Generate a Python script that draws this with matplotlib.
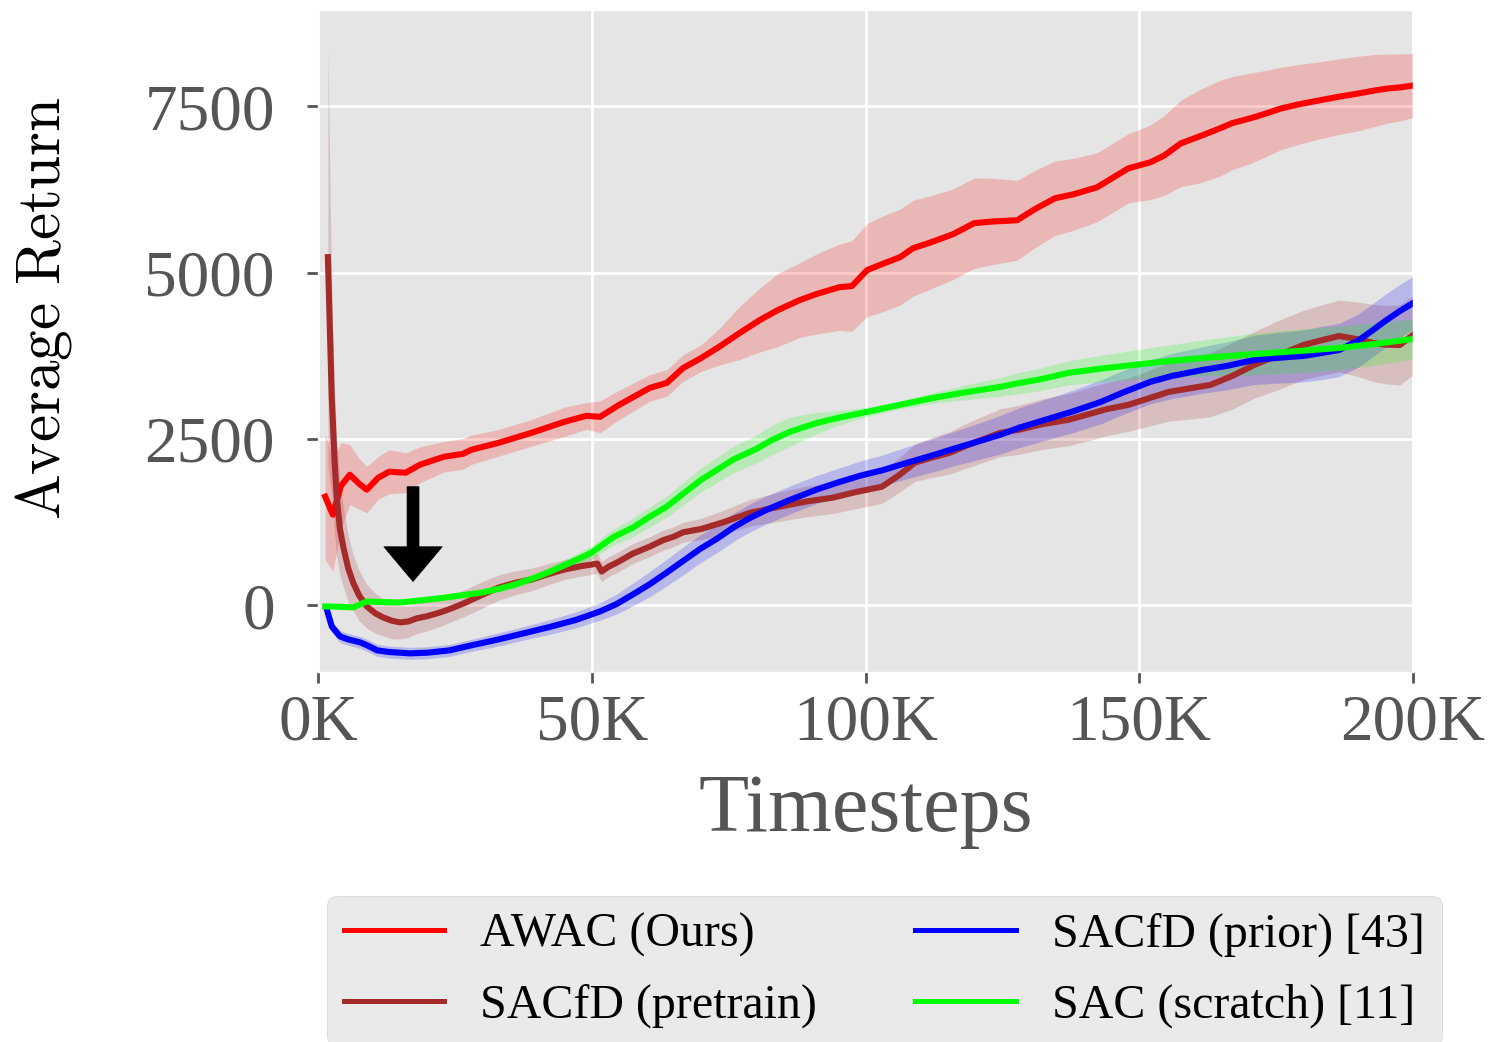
import matplotlib
matplotlib.use('Agg')
import matplotlib.pyplot as plt
import numpy as np

# ---- data (timesteps in K, returns) ----
awac_x = [1.3, 2.7, 4.2, 5.8, 7.5, 8.9, 11, 13, 16, 18.6,
          23, 26.5, 28, 33, 39, 45, 49, 51.5, 55, 60.6,
          63.7, 66.7, 70, 73.5, 77, 80.7, 84, 88, 91, 95.3,
          97.5, 100.3, 103, 106.3, 108.7, 112, 116, 119.8, 123, 127.7,
          131, 134.6, 138, 142.3, 145, 148, 152, 154.5, 157.6, 161,
          164.7, 167, 170.2, 173, 175.9, 179, 182.8, 186, 190, 193,
          195.4, 198, 200]
awac_y = [1635, 1365, 1800, 1965, 1830, 1740, 1920, 2010, 1995, 2115,
          2235, 2280, 2340, 2445, 2595, 2760, 2850, 2835, 3015, 3270,
          3345, 3570, 3720, 3900, 4095, 4290, 4440, 4590, 4680, 4785,
          4800, 5040, 5130, 5235, 5370, 5460, 5580, 5745, 5770, 5790,
          5960, 6120, 6180, 6285, 6420, 6570, 6660, 6760, 6945, 7050,
          7170, 7250, 7320, 7390, 7470, 7530, 7590, 7640, 7695, 7740,
          7770, 7790, 7815]
awac_std = [950, 850, 650, 450, 380, 350, 320, 330, 300, 270,
            230, 230, 220, 200, 200, 220, 200, 240, 220, 200,
            200, 200, 200, 280, 400, 480, 550, 560, 600, 650,
            680, 700, 720, 720, 720, 700, 680, 680, 650, 600,
            580, 560, 540, 520, 520, 520, 560, 600, 650, 700,
            720, 700, 680, 650, 620, 600, 580, 570, 560, 540,
            520, 500, 480]

pre_x = [1.8, 2.5, 3.0, 3.4, 4.0, 4.6, 5.5, 6.4, 7.5, 8.9,
         10.5, 11.9, 13.5, 15, 16.5, 18, 20, 22.3, 24.5, 27,
         30, 33, 36, 39, 42, 45, 48, 50, 51, 51.8,
         53, 54.6, 57.5, 60.6, 63, 65, 66.7, 70, 74, 79,
         84, 89, 94, 98, 103, 106, 109, 112, 115.4, 119,
         124.6, 128, 132, 137, 141, 144, 148, 152, 155.4, 159,
         163, 167, 171, 175, 180, 183, 186.5, 190, 192.7, 195,
         197.6, 200]
pre_y = [5235, 3135, 2200, 1635, 1150, 885, 560, 345, 150, -15,
         -120, -180, -230, -255, -240, -195, -160, -105, -40, 45,
         160, 270, 340, 390, 470, 540, 590, 615, 630, 510,
         580, 645, 780, 885, 980, 1035, 1100, 1150, 1250, 1395,
         1480, 1560, 1620, 1700, 1785, 1950, 2145, 2220, 2295, 2420,
         2595, 2640, 2720, 2790, 2880, 2950, 3015, 3120, 3210, 3260,
         3315, 3450, 3615, 3750, 3915, 3980, 4050, 4000, 3945, 3920,
         3915, 4065]
pre_std = [3150, 1500, 1100, 900, 700, 600, 500, 420, 380, 330,
           300, 280, 270, 250, 240, 230, 220, 210, 200, 200,
           200, 190, 180, 170, 160, 150, 150, 150, 150, 150,
           150, 150, 150, 150, 150, 150, 150, 160, 180, 200,
           220, 230, 240, 250, 250, 260, 280, 300, 320, 340,
           360, 370, 380, 390, 400, 400, 400, 420, 440, 460,
           480, 500, 500, 520, 520, 530, 540, 560, 580, 590,
           600, 600]

prior_x = [1.5, 2.5, 4, 5.5, 7.7, 9, 10.8, 13, 16.8, 20,
           24, 28, 33, 37, 42, 47, 51.5, 54.5, 57.5, 60.6,
           63.7, 66.7, 69.8, 73, 76, 79, 82, 86, 91, 95,
           99, 103, 107.6, 112, 116.7, 120, 124.6, 128, 134, 138,
           143, 147, 152, 156, 161.6, 166, 171, 175, 180, 183,
           186.5, 190, 192.7, 195, 197.5, 200]
prior_y = [-30, -315, -465, -510, -555, -600, -675, -700, -720, -710,
           -675, -600, -510, -430, -330, -220, -90, 20, 165, 320,
           495, 670, 850, 1010, 1180, 1320, 1440, 1580, 1740, 1850,
           1950, 2030, 2145, 2250, 2370, 2450, 2565, 2670, 2820, 2920,
           3060, 3200, 3360, 3450, 3540, 3600, 3690, 3720, 3750, 3790,
           3840, 3980, 4140, 4280, 4420, 4545]
prior_std = [40, 80, 90, 90, 90, 90, 90, 90, 90, 90,
             90, 90, 100, 100, 110, 120, 130, 150, 170, 190,
             200, 210, 210, 210, 210, 210, 210, 210, 210, 210,
             220, 230, 240, 250, 260, 270, 290, 300, 310, 320,
             330, 330, 330, 340, 350, 360, 370, 380, 390, 400,
             400, 400, 400, 400, 400, 400]

sac_x = [1.3, 4, 6.4, 8.9, 12, 15, 18, 22, 26, 30,
         33, 36, 39, 42, 46, 50, 51.5, 54, 57.5, 60.6,
         63.7, 67, 70, 72.9, 76, 80, 83, 86.2, 88, 91,
         95, 100.3, 106, 112.4, 118, 124.6, 128.2, 132, 137, 143,
         149, 155, 161.6, 168, 174, 180, 186.5, 193, 200]
sac_y = [-15, -20, -30, 60, 50, 45, 70, 105, 150, 195,
         250, 315, 400, 495, 640, 795, 885, 1030, 1170, 1335,
         1485, 1700, 1890, 2040, 2200, 2350, 2490, 2610, 2660, 2740,
         2820, 2910, 3010, 3120, 3200, 3285, 3345, 3400, 3495, 3560,
         3615, 3670, 3720, 3760, 3795, 3830, 3870, 3930, 4005]
sac_std = [20, 25, 30, 30, 30, 30, 30, 35, 40, 45,
           50, 55, 60, 70, 90, 100, 110, 120, 140, 150,
           160, 170, 180, 190, 200, 210, 220, 220, 200, 160,
           110, 70, 60, 80, 110, 140, 160, 170, 180, 200,
           220, 240, 270, 300, 320, 330, 330, 320, 300]

labels = ['AWAC (Ours)', 'SACfD (pretrain)', 'SACfD (prior) [43]', 'SAC (scratch) [11]']
colors = ['#FF0000', '#A52A2A', '#0000FF', '#00FF00']
xticks = [0, 50, 100, 150, 200]
yticks = [0, 2500, 5000, 7500]

# ---- style ----
plt.style.use('ggplot')
plt.rcParams['font.family'] = ['Liberation Serif', 'DejaVu Serif']

fig = plt.figure(figsize=(14.96, 10.42), dpi=100)
ax = fig.add_axes([0.2126, 0.3551, 0.7319, 0.6353])

series = [(awac_x, awac_y, awac_std), (pre_x, pre_y, pre_std),
          (prior_x, prior_y, prior_std), (sac_x, sac_y, sac_std)]
for (x, y, s), lab, c in zip(series, labels, colors):
    x = np.array(x)
    y = np.array(y)
    s = np.array(s)
    ax.fill_between(x, y - s, y + s, color=c, alpha=0.2, linewidth=0)
    ax.plot(x, y, color=c, linewidth=4.4, label=lab)

# arrow pointing at the initial dip
ax.annotate('', xy=(17.35, 360), xytext=(17.35, 1785),
            arrowprops=dict(facecolor='black', edgecolor='black',
                            width=8.6, headwidth=42, headlength=25, shrink=0))

ax.set_xlim(0, 200)
ax.set_ylim(-1000, 8950)
ax.set_xticks(xticks)
ax.set_xticklabels(['%dK' % t for t in xticks])
ax.set_yticks(yticks)
ax.set_yticklabels([str(t) for t in yticks])
ax.grid(True, color='white', linewidth=2)
ax.tick_params(axis='both', labelsize=47, colors='#555555', length=8, width=2)
ax.tick_params(axis='y', pad=23)
ax.tick_params(axis='x', pad=8)
ax.set_xlabel('Timesteps', fontsize=59, color='#555555', labelpad=14)

fig.text(44 / 1496, 1 - 308 / 1042, r'$\mathrm{Average\ Return}$',
         rotation=90, fontsize=44, color='black', ha='center', va='center',
         math_fontfamily='cm')

leg = fig.legend(loc='upper left', bbox_to_anchor=(327 / 1496, 1 - 896 / 1042),
                 borderaxespad=0, ncol=2, fontsize=34.5, handlelength=2.1,
                 handletextpad=0.75, columnspacing=2.05, labelspacing=0.55,
                 borderpad=0.35)
for t in leg.get_texts():
    t.set_color('black')
for h in leg.get_lines():
    h.set_linewidth(3.6)

fig.savefig('out.png', dpi=100)
